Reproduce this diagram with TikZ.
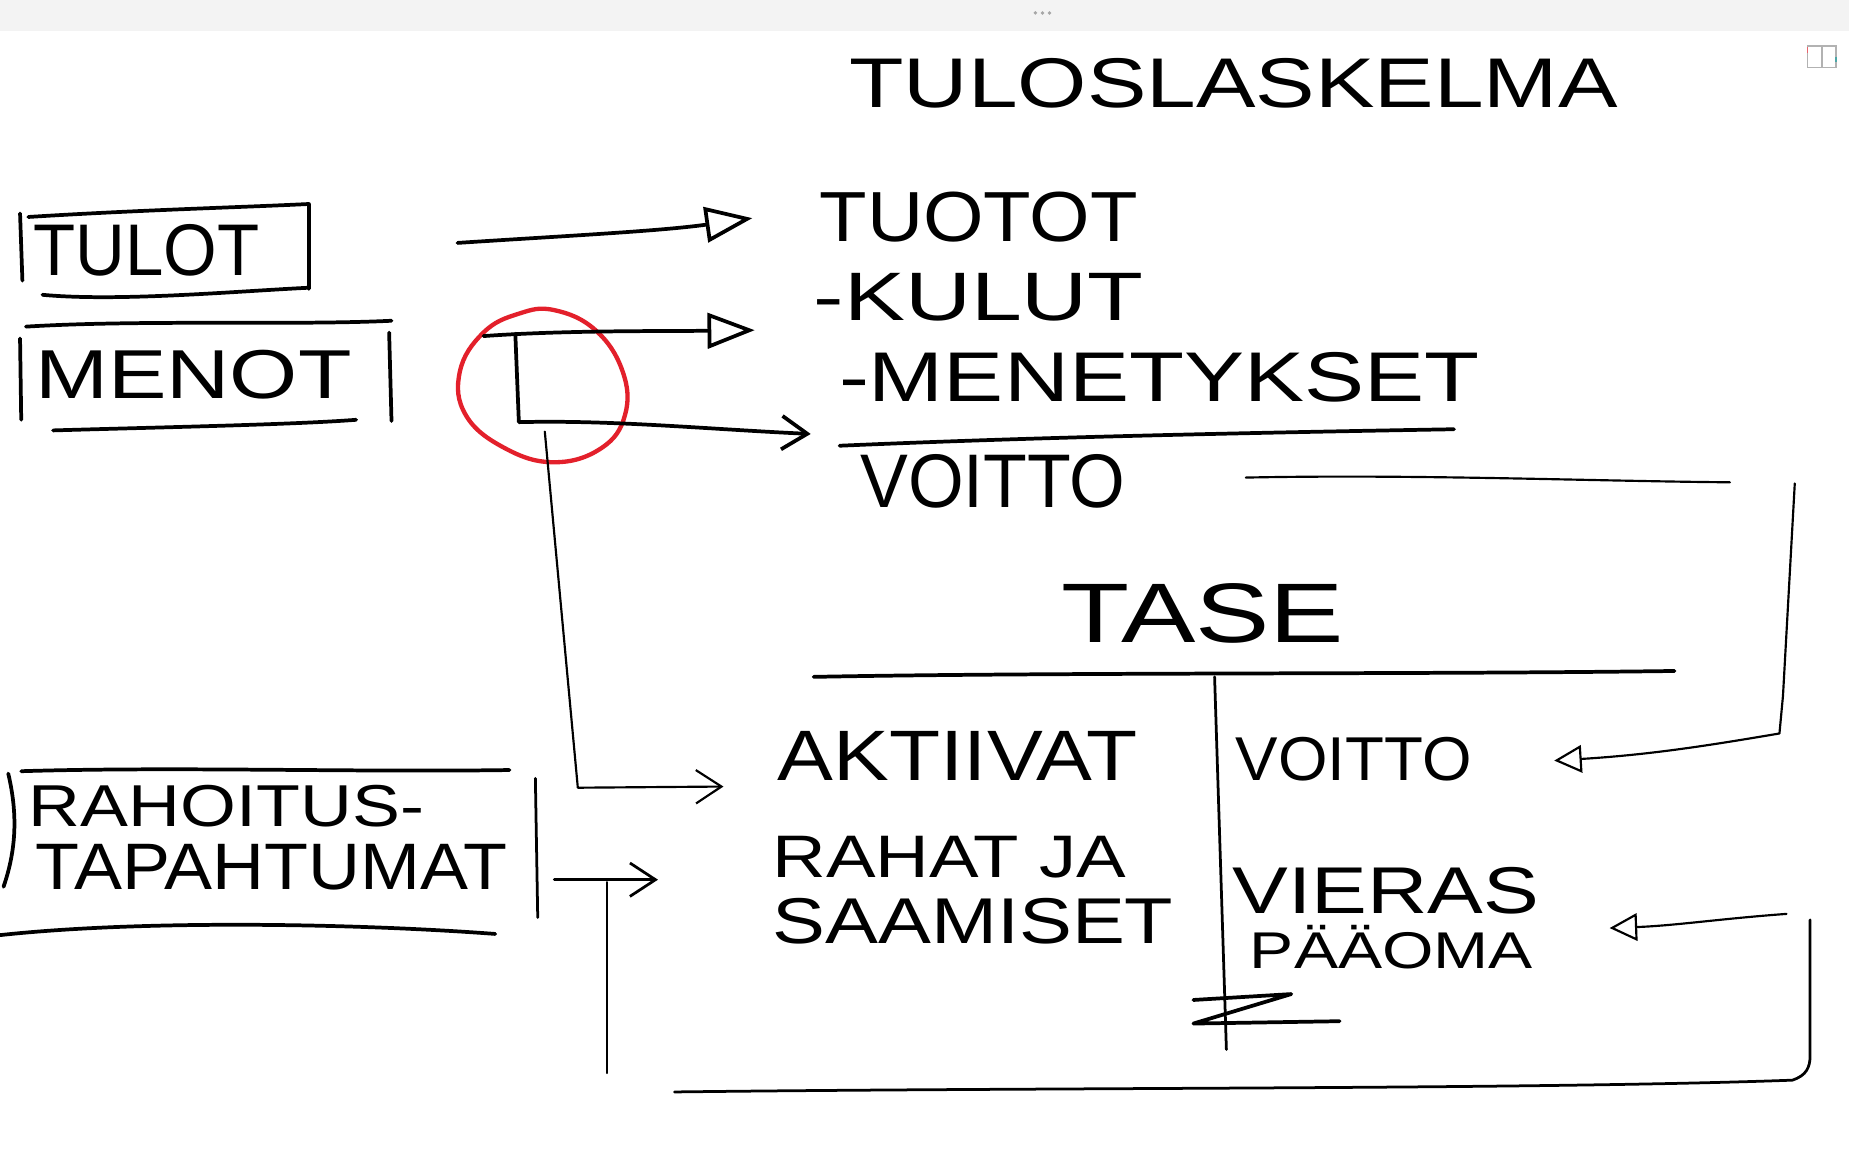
\documentclass[tikz,border=0pt]{standalone}
\usepackage{fontspec}
\setmainfont{Liberation Sans}
\usetikzlibrary{arrows.meta,calc}
\definecolor{penred}{HTML}{E3202B}
\definecolor{barbg}{HTML}{F3F3F3}
\newcommand{\hw}[3]{\resizebox{#1pt}{#2pt}{#3}}
\begin{document}
\begin{tikzpicture}[x=0.6pt,y=-0.6pt,
  pen/.style={line width=1.9pt,line cap=round,line join=round},
  midpen/.style={line width=1.4pt,line cap=round,line join=round},
  thinpen/.style={line width=1.1pt,line cap=round,line join=round},
  txt/.style={inner sep=0pt,outer sep=0pt,font=\fontsize{30}{30}\selectfont},
  tri/.style={-{Triangle[open,length=24pt,width=18pt]}},
  barb/.style={-{Straight Barb[length=13pt,width=17pt]}},
  gtip/.style={-{Triangle[open,length=14pt,width=14pt]}}]
\useasboundingbox (0,0) rectangle (1568,978);
\fill[white] (0,0) rectangle (1568,978);
% top bar
\fill[barbg] (0,0) rectangle (1568,26);
\foreach \dx in {-6,0,6} \fill[gray!70] (884+\dx,11) circle (1.6);
\draw[gray!60,line width=0.6pt] (1533,39) rectangle (1557,57);
\draw[gray!60,line width=0.6pt] (1545,39) -- (1545,57);
\draw[penred!70,line width=0.6pt] (1533,40) -- (1533,45);
\draw[teal!70,line width=0.6pt] (1557,48) -- (1557,53);

% texts
\node[txt] (title) at (1046,71) {\hw{391}{25}{TULOSLASKELMA}};
\node[txt] (tulot) at (124,212) {\hw{115}{26}{TULOT}};
\node[txt] (menot) at (164,318) {\hw{161}{24.6}{MENOT}};
\node[txt] (tuotot) at (830,184) {\hw{162}{25.2}{TUOTOT}};
\node[txt] (kulut) at (830,252) {\hw{168}{24}{-KULUT}};
\node[txt] (menetykset) at (983,320) {\hw{325.8}{25}{-MENETYKSET}};
\node[txt] (voitto1) at (842,408) {\hw{135}{27}{VOITTO}};
\node[txt] (tase) at (1020,520) {\hw{144}{30}{TASE}};
\node[txt] (aktiivat) at (812,641) {\hw{183}{25}{AKTIIVAT}};
\node[txt] (voitto2) at (1148,644) {\hw{120}{22}{VOITTO}};
\node[txt] (rahat) at (805,727) {\hw{180}{21}{RAHAT JA}};
\node[txt] (saamiset) at (825,781) {\hw{204}{23}{SAAMISET}};
\node[txt] (vieras) at (1175,755) {\hw{156}{23.5}{VIERAS}};
\node[txt] (paaoma) at (1180,803) {\hw{144}{22}{PÄÄOMA}};
\node[txt] (rahoitus) at (192,684) {\hw{201}{21}{RAHOITUS-}};
\node[txt] (tapahtumat) at (230,735) {\hw{240}{23}{TAPAHTUMAT}};

% TULOT box
\draw[pen] (17,181) -- (19,238);
\draw[pen] (24,184) .. controls (120,178) and (200,176) .. (262,173) -- (262,245);
\draw[pen] (36,250) .. controls (100,256) and (200,247) .. (262,244);
% MENOT box
\draw[pen] (22,277) .. controls (120,271) and (250,276) .. (332,272);
\draw[pen] (17,287) -- (18,356);
\draw[pen] (330,282) -- (332,357);
\draw[pen] (45,365) .. controls (150,362) and (250,360) .. (302,356);
% RAHOITUS box
\draw[pen] (18,654) .. controls (150,650) and (300,655) .. (432,653);
\draw[pen] (7,656) .. controls (15,690) and (14,720) .. (3,752);
\draw[midpen] (454,660) -- (456,778);
\draw[pen] (0,793) .. controls (120,780) and (300,783) .. (420,792);

% red circle
\draw[line width=2.2pt,penred] plot[smooth cycle,tension=0.7] coordinates {(470,263) (505,280) (528,315) (530,352) (510,380) (470,392) (428,380) (395,352) (390,315) (410,282) (440,266)};

% arrows from TULOT / MENOT
\coordinate (tulotOut) at (388,206);
\draw[pen,tri] (tulotOut) .. controls (480,200) and (560,196) .. ($(tuotot.west)+(-57,1)$);
\coordinate (menotOut) at (410,285);
\draw[pen,tri] (menotOut) .. controls (480,280) and (560,281) .. ($(kulut.west)+(-50,28)$);
\coordinate (lTop) at (437,283);
\coordinate (lCorner) at (440,358);
\draw[pen,barb] (lTop) -- (lCorner) .. controls (520,356) and (600,364) .. ($(menetykset.west)+(-24,48)$);
\coordinate (thinStart) at (462,366);
\coordinate (thinCorner) at (490,668);
\draw[thinpen,barb] (thinStart) -- (thinCorner) -- ($(aktiivat.west)+(-46,26)$);

% underline of MENETYKSET
\draw[pen] (712,378) .. controls (850,372) and (1000,368) .. (1233,364);

% VOITTO to balance sheet
\draw[thinpen] ($(voitto1.east)+(102,-3)$) .. controls (1200,402) and (1350,408) .. (1467,409);
\draw[thinpen,gtip] (1522,410) -- (1512,590) -- (1509,622) .. controls (1450,632) and (1400,640) .. ($(voitto2.east)+(70,1)$);

% TASE T-account
\draw[pen] (690,574) .. controls (900,570) and (1200,572) .. (1420,569);
\draw[midpen] (1030,574) -- (1040,890);
\draw[pen] (1012,848) -- (1095,843) -- (1012,868) -- (1136,866);

% RAHOITUS arrows
\coordinate (rahOut) at (470,746);
\draw[midpen,barb] (rahOut) -- ($(rahat.west)+(-97,19)$);
\coordinate (loopTop) at (515,748);
\coordinate (loopBL) at (515,910);
\draw[thinpen] (loopTop) -- (loopBL);
\draw[midpen] (572,926) .. controls (900,922) and (1300,924) .. (1520,916) .. controls (1532,912) and (1535,905) .. (1535,895) -- (1535,780);
\draw[thinpen,gtip] (1515,775) .. controls (1460,779) and (1420,785) .. ($(vieras.east)+(60,32)$);
\end{tikzpicture}
\end{document}
